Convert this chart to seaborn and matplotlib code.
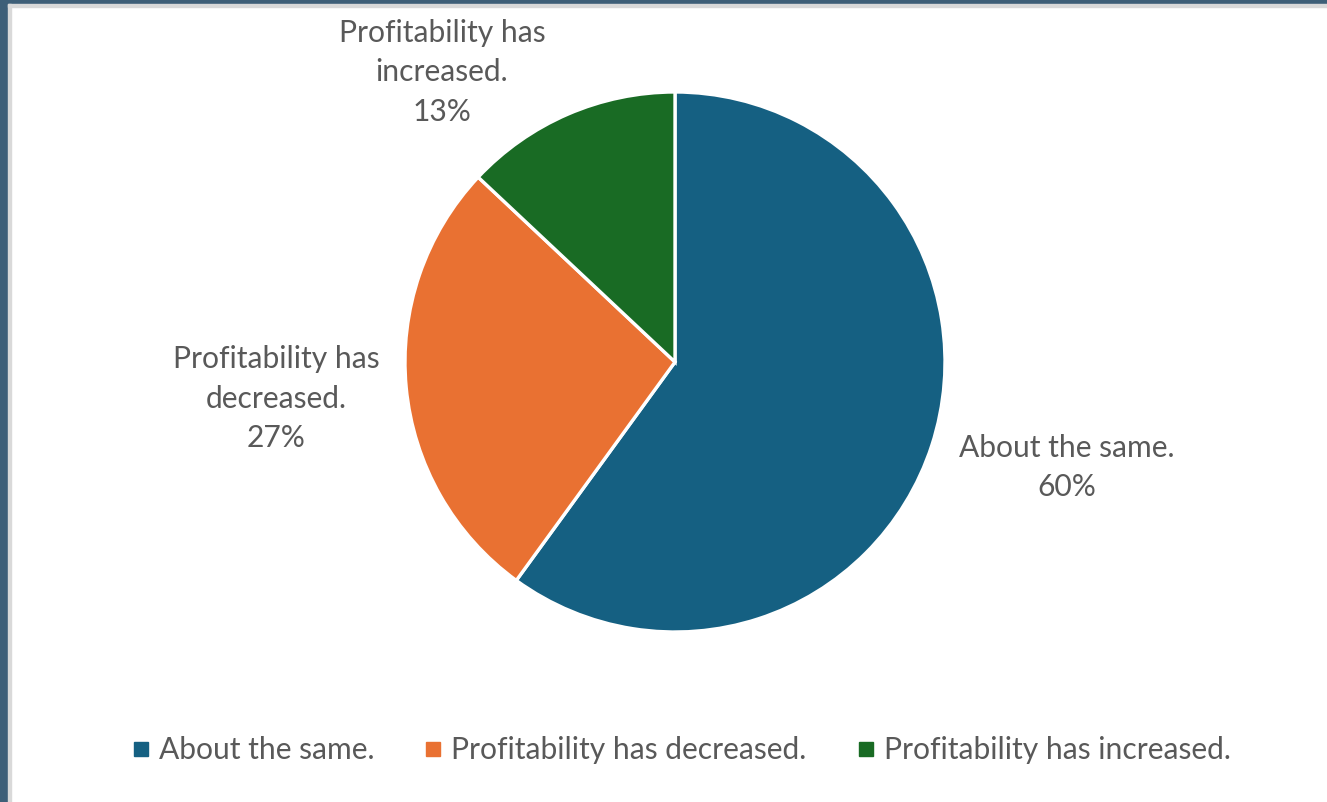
import matplotlib
matplotlib.use("Agg")
import matplotlib.pyplot as plt
from matplotlib.patches import Rectangle
from matplotlib.lines import Line2D
import seaborn as sns

# Survey responses: change in profitability
categories = ["About the same.", "Profitability has decreased.", "Profitability has increased."]
label_text = ["About the same.", "Profitability has\ndecreased.", "Profitability has\nincreased."]
shares = [60, 27, 13]
colors = ["#156082", "#E97132", "#196B24"]

sns.set_theme(style="white")
plt.rcParams["font.family"] = ["Lato", "DejaVu Sans"]
text_color = "#595959"

W, H = 1327, 802
fig = plt.figure(figsize=(W / 100, H / 100), dpi=100)
fig.patch.set_facecolor("white")

# window frame around the chart area
frame = "#3E5F78"
fig.add_artist(Rectangle((0, 0), 8 / W, 1, transform=fig.transFigure, color=frame, zorder=0))
fig.add_artist(Rectangle((0, 1 - 4 / H), 1, 4 / H, transform=fig.transFigure, color=frame, zorder=0))
fig.add_artist(Rectangle((8 / W, 0), 3 / W, 1 - 4 / H, transform=fig.transFigure, color="#D9D9D9", zorder=0))
fig.add_artist(Rectangle((8 / W, 1 - 7 / H), 1 - 8 / W, 3 / H, transform=fig.transFigure, color="#D9D9D9", zorder=0))

cx, cy, r = 675, 362, 270
ax = fig.add_axes([(cx - r) / W, (H - cy - r) / H, 2 * r / W, 2 * r / H])
wedges, _ = ax.pie(
    shares, colors=colors, startangle=90, counterclock=False,
    wedgeprops=dict(edgecolor="white", linewidth=2.4),
)
ax.set_xlim(-1, 1)
ax.set_ylim(-1, 1)
ax.set_aspect("equal")
ax.axis("off")

# data label anchors (offsets from the pie centre, in radii)
label_pos = [(1.452, -0.39), (-1.478, -0.137), (-0.863, 1.074)]
for txt, val, (lx, ly) in zip(label_text, shares, label_pos):
    ax.text(lx, ly, f"{txt}\n{val}%", ha="center", va="center", fontsize=21.6,
            color=text_color, linespacing=1.5, clip_on=False)

handles = [Line2D([], [], marker="s", linestyle="none", markersize=9.4,
                  markerfacecolor=c, markeredgecolor=c) for c in colors]
fig.legend(handles, categories, loc="center", bbox_to_anchor=(681 / W, 1 - 750 / H),
           ncol=3, frameon=False, fontsize=21.6, labelcolor=text_color,
           handletextpad=0.3, columnspacing=1.67, handlelength=0.6)

fig.savefig("out.png", dpi=100, facecolor="white")
